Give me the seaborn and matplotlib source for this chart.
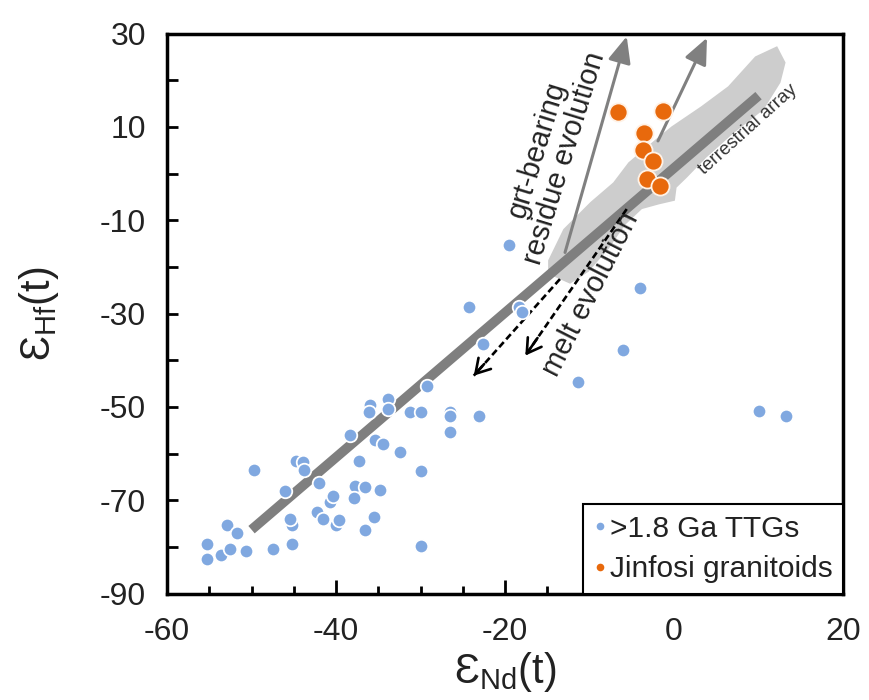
import numpy as np
import pandas as pd
import matplotlib
matplotlib.use("Agg")
import matplotlib.pyplot as plt
from matplotlib.lines import Line2D
import seaborn as sns

# --- sample data: epsilon Nd(t) vs epsilon Hf(t) ---
ttg_nd = [-55.3, -55.3, -53.6, -52.6, -52.9, -51.7, -50.7, -49.7, -47.5, -45.2,
          -45.2, -45.4, -46.0, -44.7, -43.9, -43.8, -42.0, -42.3, -41.6, -40.7,
          -40.4, -40.0, -39.6, -38.3, -37.7, -37.9, -36.6, -37.3, -36.6, -36.0,
          -36.1, -35.4, -34.4, -34.8, -35.5, -33.9, -33.9, -32.4, -31.2, -29.9,
          -29.9, -29.9, -29.2, -26.5, -26.5, -26.5, -23.1, -24.3, -22.6, -19.5,
          -18.4, -18.0, -4.0, -6.0, -11.4, 10.1, 13.3]
ttg_hf = [-79.3, -82.5, -81.8, -80.5, -75.2, -77.0, -80.9, -63.5, -80.5, -79.3,
          -75.2, -74.0, -68.1, -61.5, -61.8, -63.5, -66.3, -72.5, -74.0, -70.4,
          -69.0, -75.2, -74.3, -56.0, -66.9, -69.5, -67.2, -61.5, -76.3, -49.6,
          -51.1, -57.0, -57.9, -67.9, -73.6, -48.3, -50.4, -59.7, -51.1, -51.0,
          -63.8, -79.7, -45.6, -51.1, -52.0, -55.3, -52.0, -28.5, -36.5, -15.3,
          -28.6, -29.6, -24.6, -37.7, -44.7, -50.8, -52.0]

jinfosi_nd = [-6.6, -1.3, -3.6, -3.7, -2.5, -3.2, -1.7]
jinfosi_hf = [13.2, 13.4, 8.8, 5.0, 2.7, -1.1, -2.7]

# terrestrial array (eHf = 1.55 eNd + 1.21) and its field
array_nd = [-50.0, 10.0]
array_hf = [-76.3, 16.7]
field_nd = [-14.9, -13.1, -9.9, -7.2, -5.4, -2.2, -0.3, 3.2, 6.4, 9.6, 12.2,
            13.2, 12.6, 10.6, 7.0, 3.8, 1.5, 0.3, 0.1, -1.8, -3.8, -5.8,
            -7.7, -10.1, -12.3, -14.9]
field_hf = [-18.6, -11.9, -6.1, -1.9, 2.4, 7.3, 10.1, 14.4, 18.7, 25.1, 27.3,
            23.8, 19.5, 13.7, 8.6, 3.4, -0.9, -3.0, -5.8, -6.6, -7.6, -11.0,
            -16.0, -21.0, -23.6, -21.5]

# evolution vectors
residue_start_nd = [-12.9, -1.9]
residue_start_hf = [-16.9, 7.0]
residue_end_nd = [-5.6, 3.9]
residue_end_hf = [29.4, 29.1]
melt_start_nd = [-13.5, -5.6]
melt_start_hf = [-22.6, -7.6]
melt_end_nd = [-23.7, -17.6]
melt_end_hf = [-43.3, -39.0]

x_ticks = [-60, -40, -20, 0, 20]
y_ticks = [-90, -70, -50, -30, -10, 10, 30]

group_ttg = ">1.8 Ga TTGs"
group_jinfosi = "Jinfosi granitoids"

df = pd.DataFrame({
    "nd": ttg_nd + jinfosi_nd,
    "hf": ttg_hf + jinfosi_hf,
    "group": [group_ttg] * len(ttg_nd) + [group_jinfosi] * len(jinfosi_nd),
})

sns.set_style("ticks")
plt.rcParams["font.family"] = ["Liberation Sans", "DejaVu Sans"]
plt.rcParams["mathtext.fontset"] = "custom"
plt.rcParams["mathtext.rm"] = "Liberation Sans"
plt.rcParams["axes.unicode_minus"] = False

blue = "#80A8E0"
orange = "#E8690C"
text_color = "#222222"

fig = plt.figure(figsize=(8.7, 7.0), dpi=100)
ax = fig.add_axes([0.192, 0.152, 0.777, 0.800])

# terrestrial array field
ax.fill(field_nd, field_hf, color="#CDCDCD", lw=0, zorder=1)

# garnet-bearing residue evolution vectors
for x0, y0, x1, y1 in zip(residue_start_nd, residue_start_hf, residue_end_nd, residue_end_hf):
    ax.annotate("", xy=(x1, y1), xytext=(x0, y0),
                arrowprops=dict(arrowstyle="-|>,head_length=0.8,head_width=0.35",
                                mutation_scale=20, color="#808080", lw=2.2,
                                shrinkA=0, shrinkB=0),
                zorder=2)

# terrestrial array line
ax.plot(array_nd, array_hf, color="#7F7F7F", lw=7, solid_capstyle="butt", zorder=3)

# melt evolution vectors (dashed shaft, solid open head)
for x0, y0, x1, y1 in zip(melt_start_nd, melt_start_hf, melt_end_nd, melt_end_hf):
    ax.plot([x0, x1], [y0, y1], color="black", lw=1.9, ls=(0, (2.6, 1.4)), zorder=4)
    dx, dy = x1 - x0, y1 - y0
    ax.annotate("", xy=(x1, y1), xytext=(x1 - 0.12 * dx, y1 - 0.12 * dy),
                arrowprops=dict(arrowstyle="->,head_length=0.5,head_width=0.3",
                                mutation_scale=20, color="black", lw=1.9,
                                shrinkA=0, shrinkB=0),
                zorder=4)

sns.scatterplot(data=df[df["group"] == group_ttg], x="nd", y="hf", color=blue,
                s=95, edgecolor="white", linewidth=1.3, ax=ax, zorder=5,
                legend=False)
sns.scatterplot(data=df[df["group"] == group_jinfosi], x="nd", y="hf", color=orange,
                s=170, edgecolor="#FFF2E6", linewidth=1.3, ax=ax, zorder=6,
                legend=False)

# annotations
ax.text(-14.6, 4.3, "grt-bearing\nresidue evolution", rotation=73,
        ha="center", va="center", fontsize=21, color=text_color,
        linespacing=1.05, rotation_mode="anchor", zorder=7)
ax.text(-9.9, -25.8, "melt evolution", rotation=63, ha="center", va="center",
        fontsize=21, color=text_color, rotation_mode="anchor", zorder=7)
ax.text(8.8, 9.5, "terrestrial array", rotation=42, ha="center", va="center",
        fontsize=13.5, color="#333333", rotation_mode="anchor", zorder=7)

ax.set_xlim(-60, 20)
ax.set_ylim(-90, 30)
ax.set_xticks(x_ticks)
ax.set_xticks(np.arange(-60, 21, 5), minor=True)
ax.set_yticks(y_ticks)
ax.set_yticks(np.arange(-90, 31, 10), minor=True)
ax.tick_params(axis="both", which="both", direction="in", colors="black",
               labelsize=23, width=2, top=False, right=False)
ax.tick_params(axis="x", which="major", length=10, pad=17)
ax.tick_params(axis="x", which="minor", length=6)
ax.tick_params(axis="y", which="both", length=8, pad=15)
for lab in ax.get_xticklabels() + ax.get_yticklabels():
    lab.set_color(text_color)

for side in ["left", "right", "top", "bottom"]:
    ax.spines[side].set_visible(True)
    ax.spines[side].set_color("black")
    ax.spines[side].set_linewidth(2.5)

ax.set_xlabel("\u0190$_{\\mathregular{Nd}}$(t)", fontsize=30, color=text_color, labelpad=2)
ax.set_ylabel("\u0190$_{\\mathregular{Hf}}$(t)", fontsize=30, color=text_color, labelpad=28)

handles = [
    Line2D([], [], ls="none", marker="o", markersize=5.5, color=blue, mec="none"),
    Line2D([], [], ls="none", marker="o", markersize=5.5, color=orange, mec="none"),
]
leg = ax.legend(handles, [group_ttg, group_jinfosi], loc="lower right",
                borderaxespad=0, frameon=True, fancybox=False, edgecolor="black",
                fontsize=21.5, handletextpad=0.1, handlelength=0.45,
                borderpad=0.35, labelspacing=0.42)
leg.get_frame().set_linewidth(1.5)
leg.get_frame().set_alpha(1)
for t in leg.get_texts():
    t.set_color(text_color)

fig.savefig("out.png", dpi=100)
